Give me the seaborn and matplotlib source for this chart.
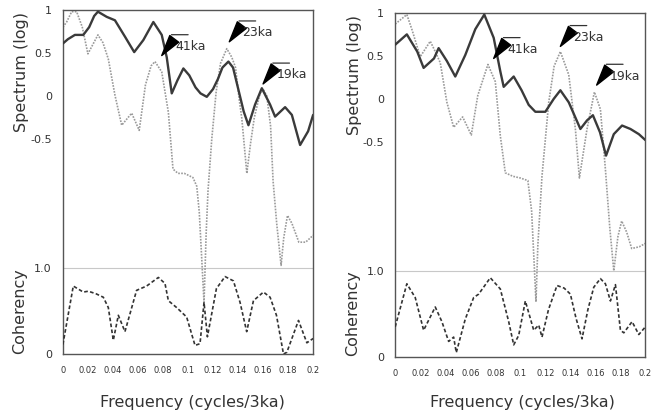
import numpy as np
import pandas as pd
import seaborn as sns
import matplotlib
matplotlib.use("Agg")
import matplotlib.pyplot as plt
from matplotlib.ticker import MultipleLocator, FixedLocator, FixedFormatter, FuncFormatter
from matplotlib.transforms import offset_copy

# ---- left panel ----
left_solid_f = [0, 0.004, 0.0096, 0.0163, 0.021, 0.025, 0.028, 0.035, 0.0416, 0.0496,
                0.057, 0.0643, 0.0723, 0.079, 0.083, 0.087, 0.0915, 0.0963, 0.101, 0.106,
                0.110, 0.115, 0.120, 0.124, 0.1275, 0.1323, 0.136, 0.140, 0.1445, 0.1483,
                0.1536, 0.159, 0.1656, 0.1696, 0.1776, 0.183, 0.1896, 0.196, 0.2]
left_solid_s = [0.61, 0.66, 0.71, 0.71, 0.80, 0.93, 0.98, 0.92, 0.88, 0.69,
                0.51, 0.65, 0.86, 0.71, 0.45, 0.03, 0.18, 0.32, 0.24, 0.10,
                0.03, -0.01, 0.08, 0.20, 0.33, 0.40, 0.33, 0.09, -0.18, -0.34,
                -0.10, 0.09, -0.10, -0.24, -0.13, -0.22, -0.57, -0.41, -0.22]

left_dot_f = [0, 0.003, 0.007, 0.011, 0.0155, 0.020, 0.024, 0.028, 0.032, 0.0363,
              0.0416, 0.047, 0.051, 0.055, 0.061, 0.066, 0.0705, 0.0736, 0.079, 0.0843,
              0.088, 0.092, 0.097, 0.100, 0.104, 0.107, 0.109, 0.111, 0.1128, 0.1145,
              0.116, 0.119, 0.1225, 0.126, 0.131, 0.135, 0.138, 0.141, 0.143, 0.147,
              0.150, 0.153, 0.1576, 0.160, 0.163, 0.166, 0.168, 0.171, 0.1744, 0.1765,
              0.1795, 0.183, 0.1886, 0.194, 0.2]
left_dot_s = [0.80, 0.86, 0.98, 0.98, 0.80, 0.49, 0.60, 0.71, 0.62, 0.43,
              0.01, -0.34, -0.27, -0.20, -0.40, 0.13, 0.35, 0.40, 0.28, -0.19,
              -0.85, -0.90, -0.90, -0.92, -0.95, -1.05, -1.35, -1.9, -2.40, -1.6,
              -1.1, -0.5, 0.05, 0.38, 0.55, 0.45, 0.33, -0.05, -0.26, -0.90,
              -0.55, -0.25, 0.03, 0.08, 0.0, -0.35, -0.99, -1.5, -1.97, -1.65,
              -1.39, -1.48, -1.70, -1.70, -1.62]

left_coh_f = [0, 0.0083, 0.0163, 0.0203, 0.0265, 0.0323, 0.0363, 0.0403, 0.0443, 0.0496,
              0.0589, 0.0669, 0.0763, 0.0816, 0.0843, 0.0909, 0.0989, 0.1056, 0.1096, 0.1128,
              0.1155, 0.1227, 0.1296, 0.1363, 0.1416, 0.1469, 0.1523, 0.1603, 0.1656, 0.1707,
              0.1763, 0.179, 0.1883, 0.195, 0.2]
left_coh_c = [0.11, 0.79, 0.72, 0.73, 0.70, 0.66, 0.54, 0.16, 0.45, 0.26,
              0.74, 0.79, 0.89, 0.82, 0.62, 0.54, 0.43, 0.10, 0.12, 0.60,
              0.20, 0.76, 0.90, 0.85, 0.60, 0.26, 0.62, 0.72, 0.66, 0.45,
              0.0, 0.02, 0.39, 0.13, 0.18]

# ---- right panel ----
right_solid_f = [0, 0.0093, 0.0176, 0.0227, 0.031, 0.0347, 0.0413, 0.048, 0.056, 0.064,
                 0.0712, 0.0787, 0.084, 0.0867, 0.0947, 0.1010, 0.1067, 0.112, 0.12, 0.1267,
                 0.132, 0.1387, 0.148, 0.1533, 0.158, 0.1637, 0.1685, 0.1747, 0.1813, 0.188,
                 0.1947, 0.2]
right_solid_s = [0.63, 0.75, 0.55, 0.36, 0.47, 0.59, 0.44, 0.26, 0.51, 0.81,
                 0.98, 0.71, 0.32, 0.14, 0.26, 0.10, -0.07, -0.15, -0.15, 0.0,
                 0.10, -0.04, -0.35, -0.25, -0.19, -0.39, -0.66, -0.41, -0.31, -0.35,
                 -0.41, -0.48]

right_dot_f = [0, 0.0093, 0.0135, 0.02, 0.028, 0.032, 0.036, 0.0413, 0.0467, 0.0539,
               0.0608, 0.066, 0.0741, 0.080, 0.084, 0.088, 0.094, 0.100, 0.106, 0.109,
               0.111, 0.1125, 0.114, 0.1173, 0.1227, 0.127, 0.132, 0.1387, 0.144, 0.1472,
               0.1533, 0.1592, 0.164, 0.168, 0.1715, 0.1747, 0.178, 0.181, 0.185, 0.189,
               0.195, 0.2]
right_dot_s = [0.87, 0.98, 0.80, 0.49, 0.67, 0.55, 0.42, -0.04, -0.33, -0.21,
               -0.42, 0.04, 0.40, 0.20, -0.43, -0.86, -0.90, -0.92, -0.95, -1.3,
               -1.9, -2.36, -1.7, -0.90, -0.04, 0.38, 0.55, 0.28, -0.35, -0.92,
               -0.35, 0.08, -0.12, -0.82, -1.5, -2.0, -1.6, -1.42, -1.55, -1.74,
               -1.72, -1.68]

right_coh_f = [0, 0.0093, 0.016, 0.0227, 0.032, 0.0373, 0.0427, 0.0467, 0.0488, 0.056,
               0.0627, 0.0667, 0.076, 0.084, 0.0907, 0.0947, 0.0987, 0.104, 0.1107, 0.1147,
               0.1173, 0.1225, 0.1293, 0.135, 0.14, 0.1445, 0.1493, 0.154, 0.1587, 0.164,
               0.168, 0.172, 0.176, 0.18, 0.1827, 0.1893, 0.1947, 0.2]
right_coh_c = [0.35, 0.85, 0.69, 0.31, 0.58, 0.41, 0.18, 0.23, 0.05, 0.44,
               0.69, 0.73, 0.92, 0.79, 0.41, 0.14, 0.25, 0.65, 0.31, 0.37,
               0.23, 0.55, 0.83, 0.80, 0.73, 0.45, 0.21, 0.55, 0.81, 0.91,
               0.85, 0.65, 0.84, 0.31, 0.28, 0.41, 0.26, 0.35]

peak_labels = ["41ka", "23ka", "19ka"]
left_peaks = [(0.079, 0.47), (0.133, 0.63), (0.160, 0.14)]
right_peaks = [(0.0787, 0.47), (0.132, 0.61), (0.161, 0.16)]

# coherency drawn in the lower part of the same axes, 0..1 -> -3..-2
COH_SHIFT = -3.0

TXT = "#333333"


def draw_panel(ax, solid_f, solid_s, dot_f, dot_s, coh_f, coh_c, peaks):
    ax.axhline(1 + COH_SHIFT, color="#c8c8c8", lw=0.8, zorder=1)
    sns.lineplot(x=dot_f, y=dot_s, ax=ax, color="#9a9a9a", lw=1.2,
                 linestyle=(0, (1, 0.8)), errorbar=None, zorder=2)
    sns.lineplot(x=solid_f, y=solid_s, ax=ax, color="#3a3a3a", lw=1.7,
                 errorbar=None, zorder=3)
    coh = np.array(coh_c) + COH_SHIFT
    sns.lineplot(x=coh_f, y=coh, ax=ax, color="#333333", lw=1.2,
                 linestyle=(0, (2.2, 1.4)), errorbar=None, zorder=3)

    bar_end = offset_copy(ax.transData, fig=ax.figure, x=19, y=15, units="points")
    for (f, s), lab in zip(peaks, peak_labels):
        # black wedge pointing at the peak
        ax.annotate("", xy=(f, s), xytext=(9, 12), textcoords="offset points",
                    arrowprops=dict(arrowstyle="wedge,tail_width=0.8,shrink_factor=0.5",
                                    fc="black", ec="black", mutation_scale=10,
                                    shrinkA=0, shrinkB=0))
        # short bar over the label
        ax.annotate("", xy=(f, s), xycoords=bar_end, xytext=(-12, 0),
                    textcoords="offset points",
                    arrowprops=dict(arrowstyle="-", color="#333333", lw=0.9,
                                    shrinkA=0, shrinkB=0))
        ax.annotate(lab, xy=(f, s), xytext=(9.5, 6.5), textcoords="offset points",
                    ha="left", va="center", fontsize=9, color=TXT)

    ax.set_xlim(0, 0.2)
    ax.set_ylim(-3, 1)
    ax.xaxis.set_major_locator(MultipleLocator(0.02))
    ax.xaxis.set_minor_locator(MultipleLocator(0.01))
    ax.xaxis.set_major_formatter(FuncFormatter(lambda v, p: "%g" % round(v, 2)))
    ax.tick_params(axis="x", which="both", direction="in", length=4, width=1,
                   labelsize=6, pad=9, colors="#333333")
    ax.yaxis.set_major_locator(FixedLocator([1, 0.5, 0, -0.5, -2, -2.5, -3]))
    ax.yaxis.set_major_formatter(FixedFormatter(["1", "0.5", "0", "-0.5", "1.0", "", "0"]))
    ax.tick_params(axis="y", direction="out", length=5, width=1, labelsize=8,
                   pad=3, colors="#333333")
    for sp in ax.spines.values():
        sp.set_visible(True)
        sp.set_color("#555555")
        sp.set_linewidth(1.0)
    ax.set_xlabel("")
    ax.set_ylabel("")


sns.set_style("white")
plt.rcParams["font.family"] = ["DejaVu Sans"]

fig = plt.figure(figsize=(6.62, 4.15), dpi=100)
ax1 = fig.add_axes([0.095, 0.147, 0.378, 0.829])
ax2 = fig.add_axes([0.597, 0.140, 0.378, 0.829])

draw_panel(ax1, left_solid_f, left_solid_s, left_dot_f, left_dot_s,
           left_coh_f, left_coh_c, left_peaks)
draw_panel(ax2, right_solid_f, right_solid_s, right_dot_f, right_dot_s,
           right_coh_f, right_coh_c, right_peaks)

fig.text(0.033, 0.827, "Spectrum (log)", rotation=90, ha="center", va="center",
         fontsize=11.5, color=TXT)
fig.text(0.030, 0.251, "Coherency", rotation=90, ha="center", va="center",
         fontsize=11.5, color=TXT)
fig.text(0.290, 0.031, "Frequency (cycles/3ka)", ha="center", va="center",
         fontsize=11.5, color=TXT)
fig.text(0.536, 0.820, "Spectrum (log)", rotation=90, ha="center", va="center",
         fontsize=11.5, color=TXT)
fig.text(0.532, 0.246, "Coherency", rotation=90, ha="center", va="center",
         fontsize=11.5, color=TXT)
fig.text(0.789, 0.031, "Frequency (cycles/3ka)", ha="center", va="center",
         fontsize=11.5, color=TXT)

fig.savefig("out.png", dpi=100)
